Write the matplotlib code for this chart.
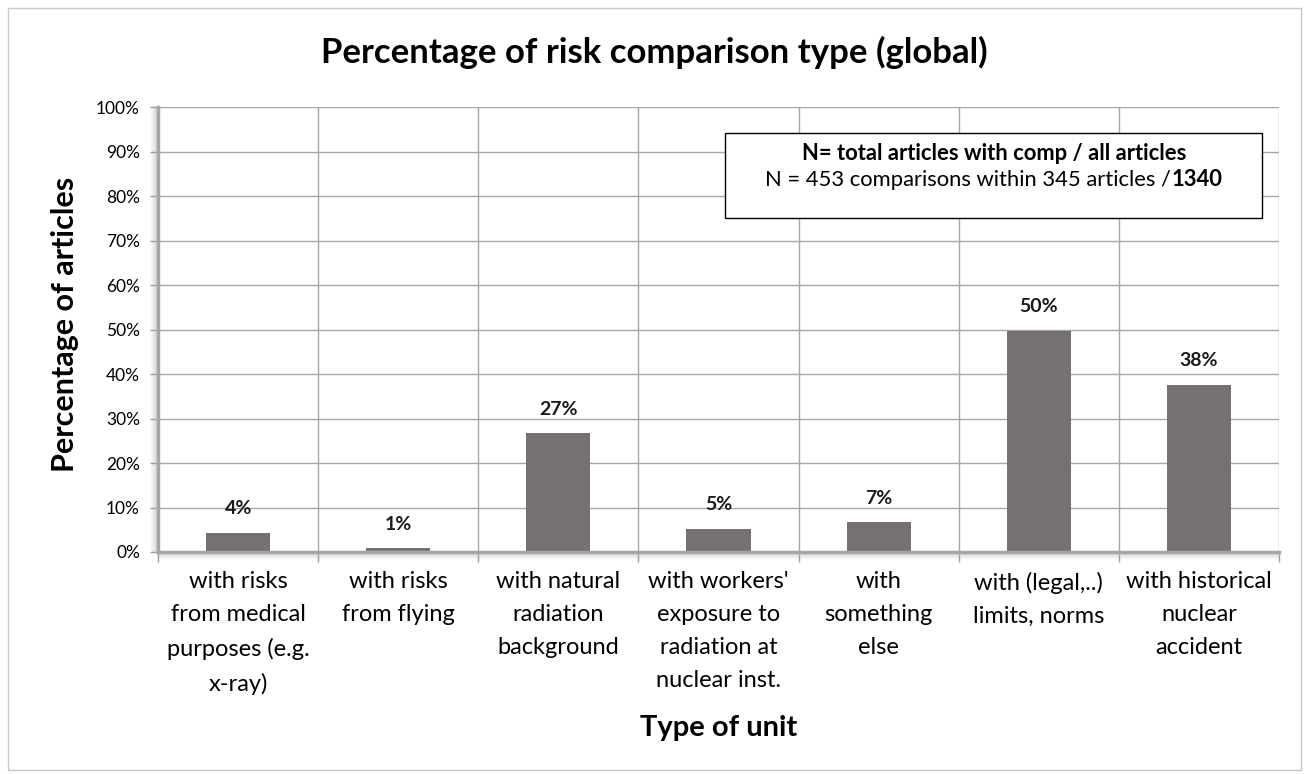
import numpy as np
import matplotlib
matplotlib.use("Agg")
import matplotlib.pyplot as plt
from matplotlib.offsetbox import TextArea, HPacker, VPacker, AnnotationBbox
from matplotlib.patches import Rectangle
from matplotlib.transforms import offset_copy

categories = [
    "with risks\nfrom medical\npurposes (e.g.\nx-ray)",
    "with risks\nfrom flying",
    "with natural\nradiation\nbackground",
    "with workers'\nexposure to\nradiation at\nnuclear inst.",
    "with\nsomething\nelse",
    "with (legal,..)\nlimits, norms",
    "with historical\nnuclear\naccident",
]
values = [4.3, 0.8, 26.7, 5.2, 6.7, 49.7, 37.6]
yticks = list(range(0, 101, 10))

plt.rcParams['font.family'] = ['Lato', 'DejaVu Sans']

W, H = 1309, 774
fig = plt.figure(figsize=(W / 100, H / 100), dpi=100)
fig.patches.append(Rectangle((8 / W, 4 / H), 1 - 16 / W, 1 - 12 / H, transform=fig.transFigure,
                             fill=False, edgecolor="#c8c8c8", linewidth=1))
# plot area: x 158..1279, y 107..552 (pixels)
ax = fig.add_axes([158 / W, 1 - 552 / H, 1121 / W, 445 / H])

x = np.arange(len(values))
ax.bar(x, values, width=0.4, color="#767171", zorder=3)
for xi, v in zip(x, values):
    ax.text(xi, v + 5.4, "%d%%" % round(v), ha="center", va="center",
            fontsize=14, fontweight="bold", color="#1a1a1a", zorder=4)

ax.set_xlim(-0.5, len(values) - 0.5)
ax.set_ylim(0, 100)
ax.set_yticks(yticks)
ax.set_yticklabels(["%d%%" % t for t in yticks], fontsize=12.5)
ax.set_xticks(x)
ax.set_xticklabels(categories, fontsize=17, linespacing=1.7, va="top")
ax.set_xticks(np.arange(-0.5, len(values)), minor=True)
ax.tick_params(axis="x", which="major", length=0, pad=14)
ax.tick_params(axis="x", which="minor", length=7, color="#a0a0a0", width=1)
ax.tick_params(axis="y", length=6, color="#a0a0a0", width=1, pad=7)

ax.grid(axis="y", color="#a6a6a6", linewidth=1, zorder=0)
ax.grid(axis="x", which="minor", color="#a6a6a6", linewidth=1, zorder=0)

for s in ["top", "right"]:
    ax.spines[s].set_visible(False)
for s in ["left", "bottom"]:
    ax.spines[s].set_color("#a6a6a6")
    ax.spines[s].set_linewidth(2.5)
    ax.spines[s].set_zorder(5)

# soft shadow along the left and bottom axis lines
for k in range(1, 8):
    a = 0.10 * (8 - k) / 7
    ax.plot([-0.5, -0.5], [0, 100], color="black", alpha=a, linewidth=1.2,
            transform=offset_copy(ax.transData, fig, x=-k, y=0, units="dots"),
            clip_on=False, zorder=1)
    ax.plot([-0.5, len(values) - 0.5], [0, 0], color="black", alpha=a, linewidth=1.2,
            transform=offset_copy(ax.transData, fig, x=0, y=-k, units="dots"),
            clip_on=False, zorder=1)

ax.set_ylabel("Percentage of articles", fontsize=22, fontweight="bold", va="center")
ax.yaxis.set_label_coords((65 - 158) / 1121, 0.512)
ax.set_xlabel("Type of unit", fontsize=21, fontweight="bold", va="center")
ax.xaxis.set_label_coords(0.5, (552 - 728) / 445)
fig.text(0.5, 1 - 52 / H, "Percentage of risk comparison type (global)", fontsize=25,
         fontweight="bold", ha="center", va="center")

# legend-like note box
ax.add_patch(Rectangle((0.506, 0.751), 0.479, 0.191, transform=ax.transAxes,
                       facecolor="white", edgecolor="black", linewidth=1, zorder=6))
line1 = TextArea("N= total articles with comp / all articles",
                 textprops=dict(fontsize=15.8, fontweight="bold"))
part_a = TextArea("N = 453 comparisons within 345 articles /",
                  textprops=dict(fontsize=15.8))
part_b = TextArea("1340", textprops=dict(fontsize=15.8, fontweight="bold"))
line2 = HPacker(children=[part_a, part_b], pad=0, sep=0)
box = VPacker(children=[line1, line2], align="center", pad=0, sep=4)
ab = AnnotationBbox(box, (0.7455, 0.866), xycoords="axes fraction", frameon=False,
                    box_alignment=(0.5, 0.5), zorder=7)
ax.add_artist(ab)

fig.savefig("out.png", dpi=100)
